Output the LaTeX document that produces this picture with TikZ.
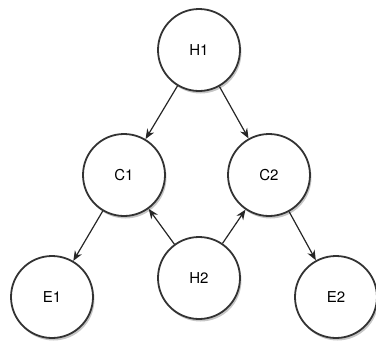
\documentclass[tikz,border=0pt]{standalone}
\usepackage{fontspec}
\setmainfont{TeX Gyre Heros}
\usetikzlibrary{arrows.meta,shadows}

\begin{document}
\begin{tikzpicture}[x=1pt,y=-1pt]

%
% Styles
%
\tikzstyle{vertex} = [circle,draw=black!80,fill=white,line width=1.8pt,minimum size=82pt,inner sep=0pt,font=\fontsize{15}{17}\selectfont,drop shadow={opacity=0.45,shadow xshift=1.5pt,shadow yshift=-2.5pt}]
\tikzstyle{link} = [-{Stealth[length=10pt,width=8pt]},line width=1.2pt,black!85]

\useasboundingbox (0,0) rectangle (376,346);

\node[vertex] (h1) at (199, 50) {H1};
\node[vertex] (c1) at (124,175) {C1};
\node[vertex] (c2) at (269,175) {C2};
\node[vertex] (h2) at (199,278) {H2};
\node[vertex] (e1) at ( 52,297) {E1};
\node[vertex] (e2) at (336,297) {E2};

\draw[link] (h1) -- (c1);
\draw[link] (h1) -- (c2);
\draw[link] (h2) -- (c1);
\draw[link] (h2) -- (c2);
\draw[link] (c1) -- (e1);
\draw[link] (c2) -- (e2);

\end{tikzpicture}
\end{document}
